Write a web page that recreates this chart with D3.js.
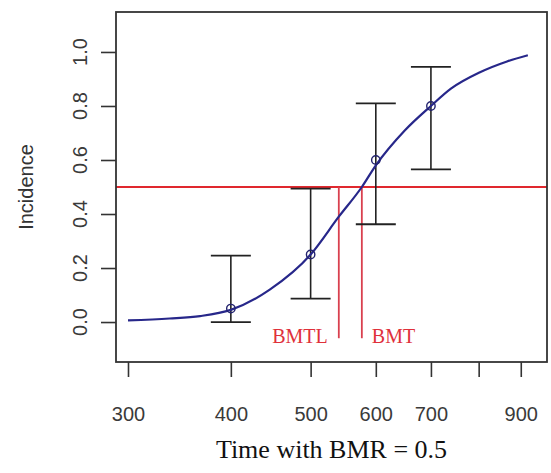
<!DOCTYPE html>
<html>
<head>
<meta charset="utf-8">
<script src="https://cdn.jsdelivr.net/npm/d3@7"></script>
<style>
  body { margin: 0; background: #fff; }
  .tick line { stroke: #333; stroke-width: 1.6px; }
</style>
</head>
<body>
<script>
// observed data (dose / time and incidence with CI)
var doses = [400, 500, 600, 700];
var incidence = [0.05, 0.25, 0.60, 0.80];
var ciLow = [0.0, 0.087, 0.362, 0.565];
var ciHigh = [0.246, 0.494, 0.81, 0.945];

// fitted curve
var curveX = [300, 337, 367, 400, 446, 500, 541, 577, 600, 651, 700, 741, 803, 866, 918];
var curveY = [0.006, 0.013, 0.022, 0.045, 0.12, 0.25, 0.39, 0.50, 0.58, 0.71, 0.80, 0.865, 0.925, 0.965, 0.988];

// benchmark values
var bmr = 0.5;
var bmtl = 541;
var bmt = 577;
var bmdLineBottom = -0.06;

var xTicks = [300, 400, 500, 600, 700, 800, 900];
var xTickLabels = ["300", "400", "500", "600", "700", "", "900"];
var yTicks = [0, 0.2, 0.4, 0.6, 0.8, 1.0];

// set the dimensions of the plot box
var width = 551, height = 473;
var box = {left: 116, right: 547, top: 12, bottom: 362};

var x = d3.scaleLog()
    .domain([290.1, 968.5])
    .range([box.left, box.right]);
var y = d3.scaleLinear()
    .domain([-0.148, 1.148])
    .range([box.bottom, box.top]);

var svg = d3.select("body").append("svg")
    .attr("width", width)
    .attr("height", height);

// red BMR line and BMT / BMTL drops
svg.append("line")
    .attr("x1", box.left).attr("x2", box.right)
    .attr("y1", y(bmr)).attr("y2", y(bmr))
    .attr("stroke", "#e0282e").attr("stroke-width", 2);

[bmtl, bmt].forEach(function(v) {
    svg.append("line")
        .attr("x1", x(v)).attr("x2", x(v))
        .attr("y1", y(bmr)).attr("y2", y(bmdLineBottom))
        .attr("stroke", "#d9404f").attr("stroke-width", 1.8);
});

svg.append("text")
    .attr("x", x(bmtl) - 11).attr("y", 343)
    .attr("text-anchor", "end")
    .attr("font-family", "'Liberation Serif', 'Times New Roman', serif")
    .attr("font-size", 20).attr("fill", "#e0303a")
    .text("BMTL");
svg.append("text")
    .attr("x", x(bmt) + 10).attr("y", 343)
    .attr("font-family", "'Liberation Serif', 'Times New Roman', serif")
    .attr("font-size", 20).attr("fill", "#e0303a")
    .text("BMT");

// error bars
var bars = svg.selectAll(".err")
    .data(doses)
    .enter().append("g")
    .attr("class", "err");
bars.append("line")
    .attr("x1", function(d) { return x(d); })
    .attr("x2", function(d) { return x(d); })
    .attr("y1", function(d, i) { return y(ciLow[i]); })
    .attr("y2", function(d, i) { return y(ciHigh[i]); })
    .attr("stroke", "#222").attr("stroke-width", 1.6);
bars.append("line")
    .attr("x1", function(d) { return x(d) - 20; })
    .attr("x2", function(d) { return x(d) + 20; })
    .attr("y1", function(d, i) { return y(ciLow[i]); })
    .attr("y2", function(d, i) { return y(ciLow[i]); })
    .attr("stroke", "#222").attr("stroke-width", 1.8);
bars.append("line")
    .attr("x1", function(d) { return x(d) - 20; })
    .attr("x2", function(d) { return x(d) + 20; })
    .attr("y1", function(d, i) { return y(ciHigh[i]); })
    .attr("y2", function(d, i) { return y(ciHigh[i]); })
    .attr("stroke", "#222").attr("stroke-width", 1.8);

// fitted curve
var line = d3.line()
    .x(function(d) { return x(d[0]); })
    .y(function(d) { return y(d[1]); })
    .curve(d3.curveMonotoneX);
svg.append("path")
    .datum(d3.zip(curveX, curveY))
    .attr("d", line)
    .attr("fill", "none")
    .attr("stroke", "#27278a")
    .attr("stroke-width", 2.2);

// observed points
svg.selectAll(".pt")
    .data(doses)
    .enter().append("circle")
    .attr("class", "pt")
    .attr("cx", function(d) { return x(d); })
    .attr("cy", function(d, i) { return y(incidence[i]); })
    .attr("r", 4.2)
    .attr("fill", "none")
    .attr("stroke", "#23236e")
    .attr("stroke-width", 1.4);

// box
svg.append("rect")
    .attr("x", box.left).attr("y", box.top)
    .attr("width", box.right - box.left)
    .attr("height", box.bottom - box.top)
    .attr("fill", "none")
    .attr("stroke", "#333").attr("stroke-width", 1.8);

// x axis
var xAxis = svg.append("g")
    .attr("transform", "translate(0," + box.bottom + ")")
    .call(d3.axisBottom(x)
        .tickValues(xTicks)
        .tickSize(15)
        .tickPadding(30)
        .tickFormat(function(d, i) { return xTickLabels[i]; }));
xAxis.select(".domain").remove();
xAxis.selectAll("text")
    .attr("font-family", "'Liberation Sans', Arial, sans-serif")
    .attr("font-size", 20)
    .attr("fill", "#3a3a3a");

// y axis
var yAxis = svg.append("g")
    .attr("transform", "translate(" + box.left + ",0)")
    .call(d3.axisLeft(y).tickValues(yTicks).tickSize(15).tickFormat(""));
yAxis.select(".domain").remove();
svg.selectAll(".ylab")
    .data(yTicks)
    .enter().append("text")
    .attr("class", "ylab")
    .attr("transform", function(d) { return "translate(87," + y(d) + ") rotate(-90)"; })
    .attr("text-anchor", "middle")
    .attr("font-family", "'Liberation Sans', Arial, sans-serif")
    .attr("font-size", 20)
    .attr("fill", "#3a3a3a")
    .text(d3.format(".1f"));

// axis titles
svg.append("text")
    .attr("x", (box.left + box.right) / 2)
    .attr("y", 458)
    .attr("text-anchor", "middle")
    .attr("font-family", "'Liberation Serif', 'Times New Roman', serif")
    .attr("font-size", 26)
    .attr("fill", "#111")
    .text("Time with BMR = 0.5");
svg.append("text")
    .attr("transform", "translate(33," + (box.top + box.bottom) / 2 + ") rotate(-90)")
    .attr("text-anchor", "middle")
    .attr("font-family", "'Liberation Sans', Arial, sans-serif")
    .attr("font-size", 20)
    .attr("fill", "#333")
    .text("Incidence");
</script>
</body>
</html>
